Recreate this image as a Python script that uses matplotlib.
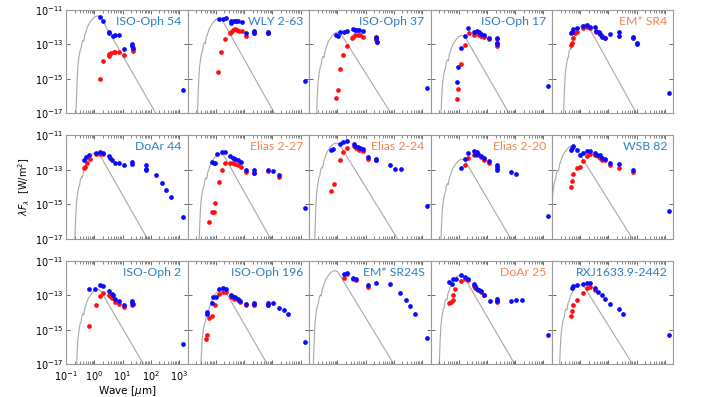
import numpy as np
import matplotlib
matplotlib.use("Agg")
import matplotlib.pyplot as plt
from matplotlib.ticker import LogLocator, NullFormatter, FixedLocator, NullLocator

# panel titles and title colours
names = ["ISO-Oph 54", "WLY 2-63", "ISO-Oph 37", "ISO-Oph 17", "EM* SR4",
         "DoAr 44", "Elias 2-27", "Elias 2-24", "Elias 2-20", "WSB 82",
         "ISO-Oph 2", "ISO-Oph 196", "EM* SR24S", "DoAr 25", "RXJ1633.9-2442"]
BLUE_T = "#2f7fc1"
ORANGE_T = "#f4834f"
title_colors = [BLUE_T, BLUE_T, BLUE_T, BLUE_T, ORANGE_T,
                BLUE_T, ORANGE_T, ORANGE_T, ORANGE_T, BLUE_T,
                BLUE_T, BLUE_T, BLUE_T, ORANGE_T, BLUE_T]

# photosphere model: peak (log wave, log flux) and log wave where it reaches 1e-17
model_peak_logw = [0.10, 0.10, 0.00, 0.10, 0.15, 0.05, 0.15, -0.05, 0.10, -0.30,
                   0.10, 0.20, -0.10, 0.05, 0.00]
model_peak_logf = [-11.35, -11.50, -12.30, -12.49, -11.83, -12.00, -12.07, -11.45, -12.40, -11.62,
                   -12.67, -12.66, -11.59, -11.84, -12.40]
model_end_logw = [2.18, 2.08, 1.90, 1.78, 1.99, 1.88, 1.94, 2.13, 1.84, 1.85,
                  1.74, 1.82, 2.00, 1.98, 1.85]
# shape of the model around its peak (offsets in dex)
shape_dx = [-0.77, -0.74, -0.71, -0.68, -0.64, -0.60, -0.57, -0.54, -0.50, -0.47,
            -0.43, -0.40, -0.36, -0.31, -0.25, -0.18, -0.10, -0.03, 0.05, 0.12]
shape_df = [-7.0, -5.2, -3.8, -2.9, -2.35, -2.0, -1.9, -1.55, -1.4, -1.45,
            -1.05, -0.95, -0.72, -0.52, -0.36, -0.2, -0.06, 0.0, 0.0, -0.06]

# photometry, (log10 wave [um], log10 lambda F_lambda [W/m2])
iso54_blue = [(0.19, -11.43), (0.31, -11.64), (0.51, -12.30), (0.53, -12.35), (0.65, -12.51),
              (0.73, -12.47), (0.87, -12.45), (1.05, -13.25), (1.35, -13.0), (1.35, -13.1),
              (1.36, -13.19), (3.13, -15.65)]
iso54_red = [(0.19, -15.03), (0.31, -13.97), (0.51, -13.66), (0.53, -13.56), (0.59, -13.52),
             (0.69, -13.46), (0.75, -13.46), (0.87, -13.46), (1.05, -13.62), (1.36, -13.29),
             (1.36, -13.4)]
wly263_blue = [(0.12, -11.54), (0.24, -11.54), (0.36, -11.47), (0.54, -11.62), (0.54, -11.74),
               (0.63, -11.62), (0.71, -11.62), (0.77, -11.64), (0.92, -11.70), (1.07, -12.36),
               (1.37, -12.22), (1.37, -12.32), (1.85, -12.28), (1.85, -12.36), (3.15, -15.11)]
wly263_red = [(0.08, -14.62), (0.20, -13.46), (0.33, -12.71), (0.51, -12.36), (0.54, -12.26),
              (0.60, -12.16), (0.68, -12.10), (0.75, -12.16), (0.83, -12.20), (0.92, -12.22),
              (1.07, -12.51), (1.37, -12.29), (1.37, -12.36), (1.85, -12.36)]
iso37_blue = [(-0.05, -12.45), (0.01, -12.51), (0.10, -12.26), (0.24, -12.26), (0.34, -12.22),
              (0.54, -12.10), (0.63, -12.16), (0.70, -12.16), (0.78, -12.16), (0.90, -12.20),
              (1.38, -12.55), (1.38, -12.65), (1.39, -12.84), (3.16, -15.5)]
iso37_red = [(-0.05, -16.13), (0.01, -15.65), (0.10, -14.43), (0.22, -13.62), (0.34, -13.09),
             (0.51, -12.65), (0.54, -12.55), (0.63, -12.47), (0.73, -12.47), (0.82, -12.47),
             (0.90, -12.57), (1.38, -12.65), (1.38, -12.74), (1.39, -12.86)]
iso17_blue = [(-0.07, -15.17), (-0.03, -14.3), (0.09, -13.23), (0.23, -12.49), (0.33, -12.03),
              (0.53, -12.3), (0.65, -12.22), (0.71, -12.3), (0.77, -12.41), (0.89, -12.44),
              (1.06, -12.65), (1.36, -12.65), (1.36, -12.9), (1.36, -13.0), (3.15, -15.4)]
iso17_red = [(-0.07, -16.19), (-0.03, -15.61), (0.09, -14.14), (0.23, -13.03), (0.35, -12.36),
             (0.53, -12.45), (0.65, -12.36), (0.71, -12.45), (0.77, -12.51), (0.89, -12.59),
             (1.06, -12.7), (1.36, -12.7), (1.36, -13.09)]
sr4_blue = [(-0.33, -12.36), (-0.30, -12.26), (-0.24, -12.12), (-0.12, -12.03), (0.10, -11.91),
            (0.24, -11.87), (0.36, -11.97), (0.54, -11.97), (0.57, -12.22), (0.65, -12.26),
            (0.69, -12.41), (0.77, -12.55), (0.89, -12.65), (1.07, -12.41), (1.37, -12.26),
            (1.38, -12.51), (1.85, -12.55), (1.86, -12.65), (2.02, -12.9), (2.02, -12.98),
            (3.15, -15.81)]
sr4_red = [(-0.33, -13.03), (-0.30, -12.9), (-0.24, -12.65), (-0.20, -12.36), (-0.12, -12.3),
           (0.10, -12.03), (0.24, -11.97), (0.36, -12.03), (0.57, -12.28), (0.69, -12.4),
           (0.77, -12.53), (0.89, -12.61)]
doar44_blue = [(-0.36, -12.45), (-0.29, -12.26), (-0.17, -12.12), (0.07, -12.01), (0.19, -11.97),
               (0.31, -12.03), (0.51, -12.22), (0.54, -12.32), (0.63, -12.41), (0.73, -12.59),
               (0.87, -12.59), (1.05, -12.7), (1.35, -12.55), (1.35, -12.65), (1.82, -12.7),
               (1.82, -12.94), (1.82, -13.03), (2.2, -13.33), (2.39, -13.77), (2.54, -14.16),
               (2.71, -14.59), (3.13, -15.75)]
doar44_red = [(-0.36, -12.9), (-0.32, -12.84), (-0.26, -12.61), (-0.14, -12.36), (0.07, -12.07),
              (0.19, -12.07), (0.31, -12.07)]
elias227_blue = [(-0.15, -12.55), (-0.08, -12.61), (-0.02, -12.59), (0.06, -12.07), (0.21, -11.99),
                 (0.33, -11.97), (0.51, -12.22), (0.60, -12.32), (0.68, -12.38), (0.77, -12.41),
                 (0.89, -12.55), (1.07, -12.99), (1.37, -12.99), (1.37, -13.17), (1.85, -13.03),
                 (2.02, -13.09), (2.24, -13.29), (3.15, -15.2)]
elias227_red = [(-0.24, -16.04), (-0.12, -15.46), (-0.06, -15.46), (-0.01, -14.94), (0.10, -13.73),
                (0.21, -12.99), (0.33, -12.61), (0.51, -12.61), (0.60, -12.61), (0.68, -12.65),
                (0.77, -12.7), (0.89, -12.84), (1.07, -13.13), (1.37, -13.17), (1.85, -13.09),
                (2.24, -13.42)]
elias224_blue = [(-0.23, -11.83), (-0.14, -11.77), (0.10, -11.48), (0.22, -11.41), (0.34, -11.33),
                 (0.58, -11.52), (0.63, -11.64), (0.73, -11.68), (0.80, -11.72), (0.90, -11.77),
                 (1.08, -12.26), (1.38, -12.36), (1.38, -12.45), (1.88, -12.7), (2.03, -12.98),
                 (2.24, -12.98), (3.16, -15.13)]
elias224_red = [(-0.23, -14.24), (-0.11, -13.81), (0.10, -12.41), (0.22, -11.99), (0.34, -11.72),
                (0.58, -11.64), (0.66, -11.72), (0.78, -11.83), (0.90, -11.91), (1.08, -12.36),
                (1.38, -12.41)]
elias220_blue = [(0.09, -12.9), (0.23, -12.4), (0.33, -12.03), (0.53, -11.91), (0.59, -12.07),
                 (0.65, -11.97), (0.67, -12.1), (0.77, -12.2), (0.89, -12.32), (1.06, -12.51),
                 (1.36, -12.74), (1.36, -12.84), (1.37, -13.03), (1.86, -13.13), (2.02, -13.23),
                 (3.15, -15.71)]
elias220_red = [(0.21, -12.7), (0.33, -12.3), (0.53, -12.16), (0.65, -12.16), (0.77, -12.26),
                (0.89, -12.41), (1.06, -12.59), (1.36, -12.94)]
wsb82_blue = [(-0.33, -11.87), (-0.30, -11.74), (-0.24, -11.64), (-0.12, -11.87), (-0.02, -12.12),
              (0.10, -12.01), (0.24, -11.91), (0.36, -11.91), (0.54, -12.03), (0.60, -12.12),
              (0.69, -12.16), (0.77, -12.32), (0.89, -12.36), (1.07, -12.61), (1.37, -12.65),
              (1.85, -13.03), (3.15, -15.39)]
wsb82_red = [(-0.33, -13.97), (-0.30, -13.67), (-0.24, -13.23), (-0.12, -12.9), (-0.02, -12.84),
             (0.10, -12.49), (0.24, -12.2), (0.36, -12.07), (0.54, -12.12), (0.62, -12.22),
             (0.69, -12.3), (0.77, -12.41), (0.89, -12.41), (1.07, -12.7), (1.37, -12.9),
             (1.85, -13.13)]
iso2_blue = [(-0.17, -12.67), (0.04, -12.62), (0.19, -12.42), (0.31, -12.48), (0.51, -12.77),
             (0.63, -12.91), (0.65, -13.0), (0.75, -13.2), (0.87, -13.35), (1.05, -13.59),
             (1.35, -13.35), (1.35, -13.43), (1.36, -13.51), (3.13, -15.85)]
iso2_red = [(-0.17, -14.81), (0.07, -13.59), (0.19, -13.05), (0.31, -12.87), (0.51, -12.97),
            (0.57, -13.06), (0.63, -13.16), (0.75, -13.39), (0.87, -13.49), (1.05, -13.69),
            (1.35, -13.55)]
iso196_blue = [(-0.32, -14.07), (-0.30, -13.98), (-0.14, -13.45), (-0.10, -13.1), (0.0, -13.1),
               (0.10, -12.62), (0.24, -12.58), (0.36, -12.66), (0.54, -12.97), (0.56, -13.05),
               (0.68, -13.1), (0.77, -13.24), (0.87, -13.34), (1.07, -13.49), (1.37, -13.43),
               (1.37, -13.53), (1.85, -13.43), (1.85, -13.59), (2.02, -13.45), (2.23, -13.74),
               (2.42, -13.84), (2.56, -14.11), (3.15, -15.72)]
iso196_red = [(-0.33, -15.52), (-0.30, -15.33), (-0.24, -14.33), (-0.12, -14.23), (-0.02, -13.55),
              (0.10, -12.95), (0.24, -12.81), (0.36, -12.81), (0.54, -13.1), (0.63, -13.2),
              (0.77, -13.3), (0.87, -13.39), (1.07, -13.55), (1.37, -13.59), (1.85, -13.55)]
sr24s_blue = [(0.24, -11.8), (0.36, -11.71), (0.54, -12.0), (0.66, -12.04), (1.08, -12.42),
              (1.38, -12.27), (1.88, -12.38), (2.23, -12.85), (2.42, -13.26), (2.59, -13.63),
              (2.74, -14.07), (3.16, -15.47)]
sr24s_red = [(0.24, -12.0), (0.34, -11.8), (0.54, -12.09), (0.66, -12.13), (1.08, -12.55)]
doar25_blue = [(-0.33, -12.23), (-0.24, -12.38), (-0.19, -12.04), (-0.10, -12.04), (0.08, -11.84),
               (0.23, -11.94), (0.31, -12.04), (0.53, -12.38), (0.56, -12.48), (0.65, -12.66),
               (0.71, -12.72), (0.77, -12.77), (0.89, -12.97), (1.09, -13.34), (1.36, -13.2),
               (1.36, -13.35), (1.86, -13.34), (2.02, -13.26), (2.23, -13.26), (3.15, -15.29)]
doar25_red = [(-0.33, -13.43), (-0.28, -13.39), (-0.22, -13.3), (-0.22, -12.97), (-0.125, -12.66),
              (0.08, -12.17), (0.23, -12.09), (0.31, -12.13), (0.53, -12.48), (0.59, -12.58),
              (0.67, -12.72), (0.77, -12.81), (0.89, -13.0), (1.36, -13.39)]
rxj_blue = [(-0.30, -12.6), (-0.24, -12.45), (-0.12, -12.4), (0.10, -12.35), (0.24, -12.3),
            (0.36, -12.3), (0.54, -12.6), (0.63, -12.8), (0.77, -13.0), (0.89, -13.2),
            (1.07, -13.5), (1.37, -13.8), (1.5, -14.1), (3.15, -15.3)]
rxj_red = [(-0.33, -14.2), (-0.30, -13.9), (-0.24, -13.6), (-0.12, -13.3), (0.10, -12.9),
           (0.24, -12.6), (0.36, -12.5), (0.54, -12.7)]

blue_sets = [iso54_blue, wly263_blue, iso37_blue, iso17_blue, sr4_blue,
             doar44_blue, elias227_blue, elias224_blue, elias220_blue, wsb82_blue,
             iso2_blue, iso196_blue, sr24s_blue, doar25_blue, rxj_blue]
red_sets = [iso54_red, wly263_red, iso37_red, iso17_red, sr4_red,
            doar44_red, elias227_red, elias224_red, elias220_red, wsb82_red,
            iso2_red, iso196_red, sr24s_red, doar25_red, rxj_red]

ERR_DEX = 0.1   # drawn error bar half-size for the mid/far-IR points


def draw_points(ax, pts, color):
    lw = np.array([p[0] for p in pts])
    lf = np.array([p[1] for p in pts])
    wave = 10 ** lw
    flux = 10 ** lf
    big = lw > 0.95
    lo = np.where(big, flux - 10 ** (lf - ERR_DEX), 0)
    hi = np.where(big, 10 ** (lf + ERR_DEX) - flux, 0)
    ax.errorbar(wave, flux, yerr=[lo, hi], fmt="o", ms=3.4, color=color,
                ecolor=color, elinewidth=0.8, capsize=0, mew=0, zorder=3)


fig, axes = plt.subplots(3, 5, figsize=(7.07, 3.97), dpi=100)
fig.subplots_adjust(left=0.0934, right=0.9526, top=0.9748, bottom=0.083, wspace=0, hspace=0.213)

for i, ax in enumerate(axes.flat):
    mx = [model_peak_logw[i] + d for d in shape_dx] + [model_end_logw[i]]
    my = [model_peak_logf[i] + d for d in shape_df] + [-17.0]
    ax.plot(10 ** np.array(mx), 10 ** np.array(my), color="#a8a8a8", lw=0.8, zorder=1)
    draw_points(ax, red_sets[i], "#ff1010")
    draw_points(ax, blue_sets[i], "#0a0aff")

    ax.set_xscale("log")
    ax.set_yscale("log")
    ax.set_xlim(0.1, 2000)
    ax.set_ylim(1e-17, 1e-11)
    ax.yaxis.set_major_locator(FixedLocator([1e-17, 1e-15, 1e-13, 1e-11]))
    ax.yaxis.set_minor_locator(NullLocator())
    ax.xaxis.set_major_locator(FixedLocator([0.1, 1, 10, 100, 1000]))
    ax.xaxis.set_minor_locator(LogLocator(base=10, subs=np.arange(2, 10), numticks=20))
    ax.xaxis.set_minor_formatter(NullFormatter())
    ax.tick_params(which="both", direction="in", top=True, right=True,
                   labelsize=7, pad=2, color="#555555")
    ax.tick_params(axis="x", pad=3.5)
    ax.tick_params(which="major", length=3, width=0.6)
    ax.tick_params(which="minor", length=2, width=0.5)
    for s in ax.spines.values():
        s.set_color("#999999")
        s.set_linewidth(0.8)
    ax.text(0.95, 0.89, names[i], transform=ax.transAxes, ha="right", va="center",
            fontsize=8.8, color=title_colors[i], family="Lato")

    row, col = divmod(i, 5)
    if not (row == 2 and col == 0):
        ax.tick_params(labelbottom=False)
    if col != 0:
        ax.tick_params(labelleft=False)

axes[1, 0].set_ylabel(r"$\lambda F_\lambda$  [W/m$^2$]", fontsize=7, labelpad=2)
axes[2, 0].set_xlabel(r"Wave [$\mu$m]", fontsize=7.5, labelpad=1)

fig.savefig("out.png", dpi=100)
